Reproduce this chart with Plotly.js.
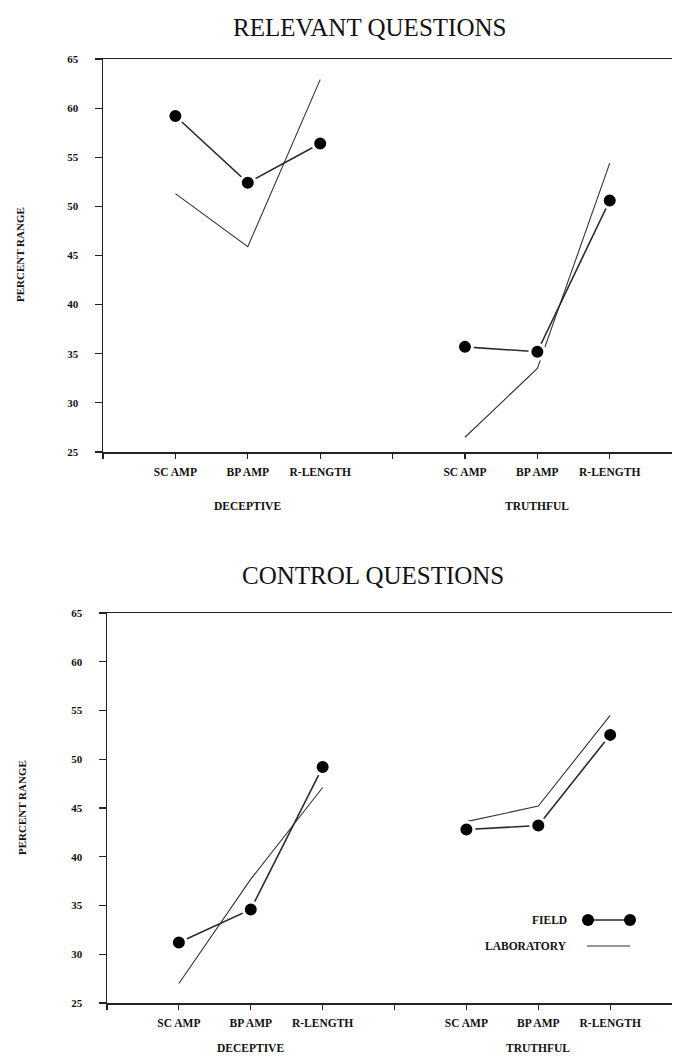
<!DOCTYPE html>
<html>
<head>
<meta charset="utf-8">
<script src="https://cdn.plot.ly/plotly-3.0.1.min.js"></script>
<style>html,body{margin:0;padding:0;background:#fff;}#chart{width:674px;height:1057px;}</style>
</head>
<body>
<div id="chart"></div>
<script>
// ---- data ----
var measures = ['SC AMP', 'BP AMP', 'R-LENGTH'];
var groups = ['DECEPTIVE', 'TRUTHFUL'];
var panelTitles = ['RELEVANT QUESTIONS', 'CONTROL QUESTIONS'];
var seriesNames = ['FIELD', 'LABORATORY'];
var yTicks = [25, 30, 35, 40, 45, 50, 55, 60, 65];

// Relevant questions
var relDeceptiveField = [59.2, 52.4, 56.4];
var relDeceptiveLab   = [51.3, 45.9, 62.9];
var relTruthfulField  = [35.7, 35.2, 50.6];
var relTruthfulLab    = [26.5, 33.5, 54.4];
// Control questions
var ctlDeceptiveField = [31.2, 34.6, 49.2];
var ctlDeceptiveLab   = [27.0, 37.7, 47.1];
var ctlTruthfulField  = [42.8, 43.2, 52.5];
var ctlTruthfulLab    = [43.6, 45.2, 54.5];

// ---- build ----
function pos(g, i) { return g * (measures.length + 1) + i + 1; }
var tickvals = [], ticktext = [];
for (var g = 0; g < groups.length; g++) {
  tickvals.push(g * (measures.length + 1)); ticktext.push('');
  for (var i = 0; i < measures.length; i++) { tickvals.push(pos(g, i)); ticktext.push(measures[i]); }
}

var panels = [
  {xa: 'x', ya: 'y', data: [[relDeceptiveField, relDeceptiveLab], [relTruthfulField, relTruthfulLab]]},
  {xa: 'x2', ya: 'y2', data: [[ctlDeceptiveField, ctlDeceptiveLab], [ctlTruthfulField, ctlTruthfulLab]]}
];

var traces = [];
panels.forEach(function (p) {
  for (var g = 0; g < groups.length; g++) {
    var xs = measures.map(function (m, i) { return pos(g, i); });
    traces.push({
      x: xs, y: p.data[g][1], xaxis: p.xa, yaxis: p.ya, type: 'scatter', mode: 'lines',
      name: seriesNames[1], showlegend: false, line: {color: '#333', width: 1.1}
    });
    traces.push({
      x: xs, y: p.data[g][0], xaxis: p.xa, yaxis: p.ya, type: 'scatter', mode: 'lines+markers',
      name: seriesNames[0], showlegend: false, line: {color: '#2a2a2a', width: 1.6},
      marker: {color: '#000', size: 15, line: {color: '#fff', width: 3}}
    });
  }
});

var tickFont = {family: 'Liberation Serif', size: 11.5, color: '#111', weight: 'bold'};
function xax(domain, anchor) {
  return {
    domain: domain, anchor: anchor, range: [0, 7.86], tickmode: 'array', tickvals: tickvals, ticktext: ticktext,
    showline: true, mirror: true, linecolor: '#222', linewidth: 1.5, ticks: 'outside', ticklen: 5, tickwidth: 1.2,
    tickcolor: '#222', showgrid: false, zeroline: false, tickfont: tickFont, ticklabelstandoff: 4, tickangle: 0
  };
}
function yax(domain, anchor) {
  return {
    domain: domain, anchor: anchor, range: [25, 65], tickvals: yTicks, showline: true, mirror: false,
    linecolor: '#222', linewidth: 1.5, ticks: 'outside', ticklen: 7, tickwidth: 1.2, tickcolor: '#222',
    showgrid: false, zeroline: false, tickfont: {family: 'Liberation Serif', size: 11, color: '#111', weight: 'bold'},
    ticklabelstandoff: 14
  };
}

var H = 944, W = 569;
function py(pix) { return (1003 - pix) / H; }
function px(pix) { return (pix - 103) / W; }

var titleFont = {family: 'Liberation Serif', size: 25, color: '#111'};
var labelFont = {family: 'Liberation Serif', size: 11.5, color: '#111', weight: 'bold'};
var annotations = [
  {text: panelTitles[0], xref: 'paper', yref: 'paper', x: px(369), y: py(27), showarrow: false, font: titleFont, xanchor: 'center', yanchor: 'middle'},
  {text: panelTitles[1], xref: 'paper', yref: 'paper', x: px(373), y: py(576), showarrow: false, font: titleFont, xanchor: 'center', yanchor: 'middle'},
  {text: 'PERCENT RANGE', xref: 'paper', yref: 'paper', x: px(20), y: py(255), textangle: -90, showarrow: false, font: {family: 'Liberation Serif', size: 11, color: '#111', weight: 'bold'}, xanchor: 'center', yanchor: 'middle'},
  {text: 'PERCENT RANGE', xref: 'paper', yref: 'paper', x: px(22), y: py(808), textangle: -90, showarrow: false, font: {family: 'Liberation Serif', size: 11, color: '#111', weight: 'bold'}, xanchor: 'center', yanchor: 'middle'},
  {text: groups[0], xref: 'x', yref: 'paper', x: 2, y: py(506), showarrow: false, font: labelFont, xanchor: 'center', yanchor: 'middle'},
  {text: groups[1], xref: 'x', yref: 'paper', x: 6, y: py(506), showarrow: false, font: labelFont, xanchor: 'center', yanchor: 'middle'},
  {text: groups[0], xref: 'x2', yref: 'paper', x: 2, y: py(1048), showarrow: false, font: labelFont, xanchor: 'center', yanchor: 'middle'},
  {text: groups[1], xref: 'x2', yref: 'paper', x: 6, y: py(1048), showarrow: false, font: labelFont, xanchor: 'center', yanchor: 'middle'},
  {text: seriesNames[0], xref: 'paper', yref: 'paper', x: px(569), y: py(920), showarrow: false, font: {family: 'Liberation Serif', size: 11.5, color: '#111', weight: 'bold'}, xanchor: 'right', yanchor: 'middle'},
  {text: seriesNames[1], xref: 'paper', yref: 'paper', x: px(569), y: py(946), showarrow: false, font: {family: 'Liberation Serif', size: 11.5, color: '#111', weight: 'bold'}, xanchor: 'right', yanchor: 'middle'}
];

var shapes = [
  {type: 'line', xref: 'paper', yref: 'paper', x0: px(588), x1: px(630), y0: py(920), y1: py(920), line: {color: '#2a2a2a', width: 1.6}},
  {type: 'circle', xref: 'paper', yref: 'paper', xsizemode: 'pixel', ysizemode: 'pixel', xanchor: px(588), yanchor: py(920), x0: -6, x1: 6, y0: -6, y1: 6, fillcolor: '#000', line: {color: '#000', width: 0}},
  {type: 'circle', xref: 'paper', yref: 'paper', xsizemode: 'pixel', ysizemode: 'pixel', xanchor: px(630), yanchor: py(920), x0: -6, x1: 6, y0: -6, y1: 6, fillcolor: '#000', line: {color: '#000', width: 0}},
  {type: 'line', xref: 'paper', yref: 'paper', x0: px(587), x1: px(630), y0: py(946), y1: py(946), line: {color: '#333', width: 1.1}}
];

var layout = {
  width: 674, height: 1057, margin: {l: 103, r: 2, t: 59, b: 54},
  paper_bgcolor: '#fff', plot_bgcolor: '#fff', showlegend: false,
  xaxis: xax([0, 1], 'y'),
  yaxis: yax([py(452), 1], 'x'),
  xaxis2: xax([4 / W, 1], 'y2'),
  yaxis2: yax([0, py(613)], 'x2'),
  annotations: annotations, shapes: shapes
};

Plotly.newPlot('chart', traces, layout, {displayModeBar: false, staticPlot: true});
</script>
</body>
</html>
